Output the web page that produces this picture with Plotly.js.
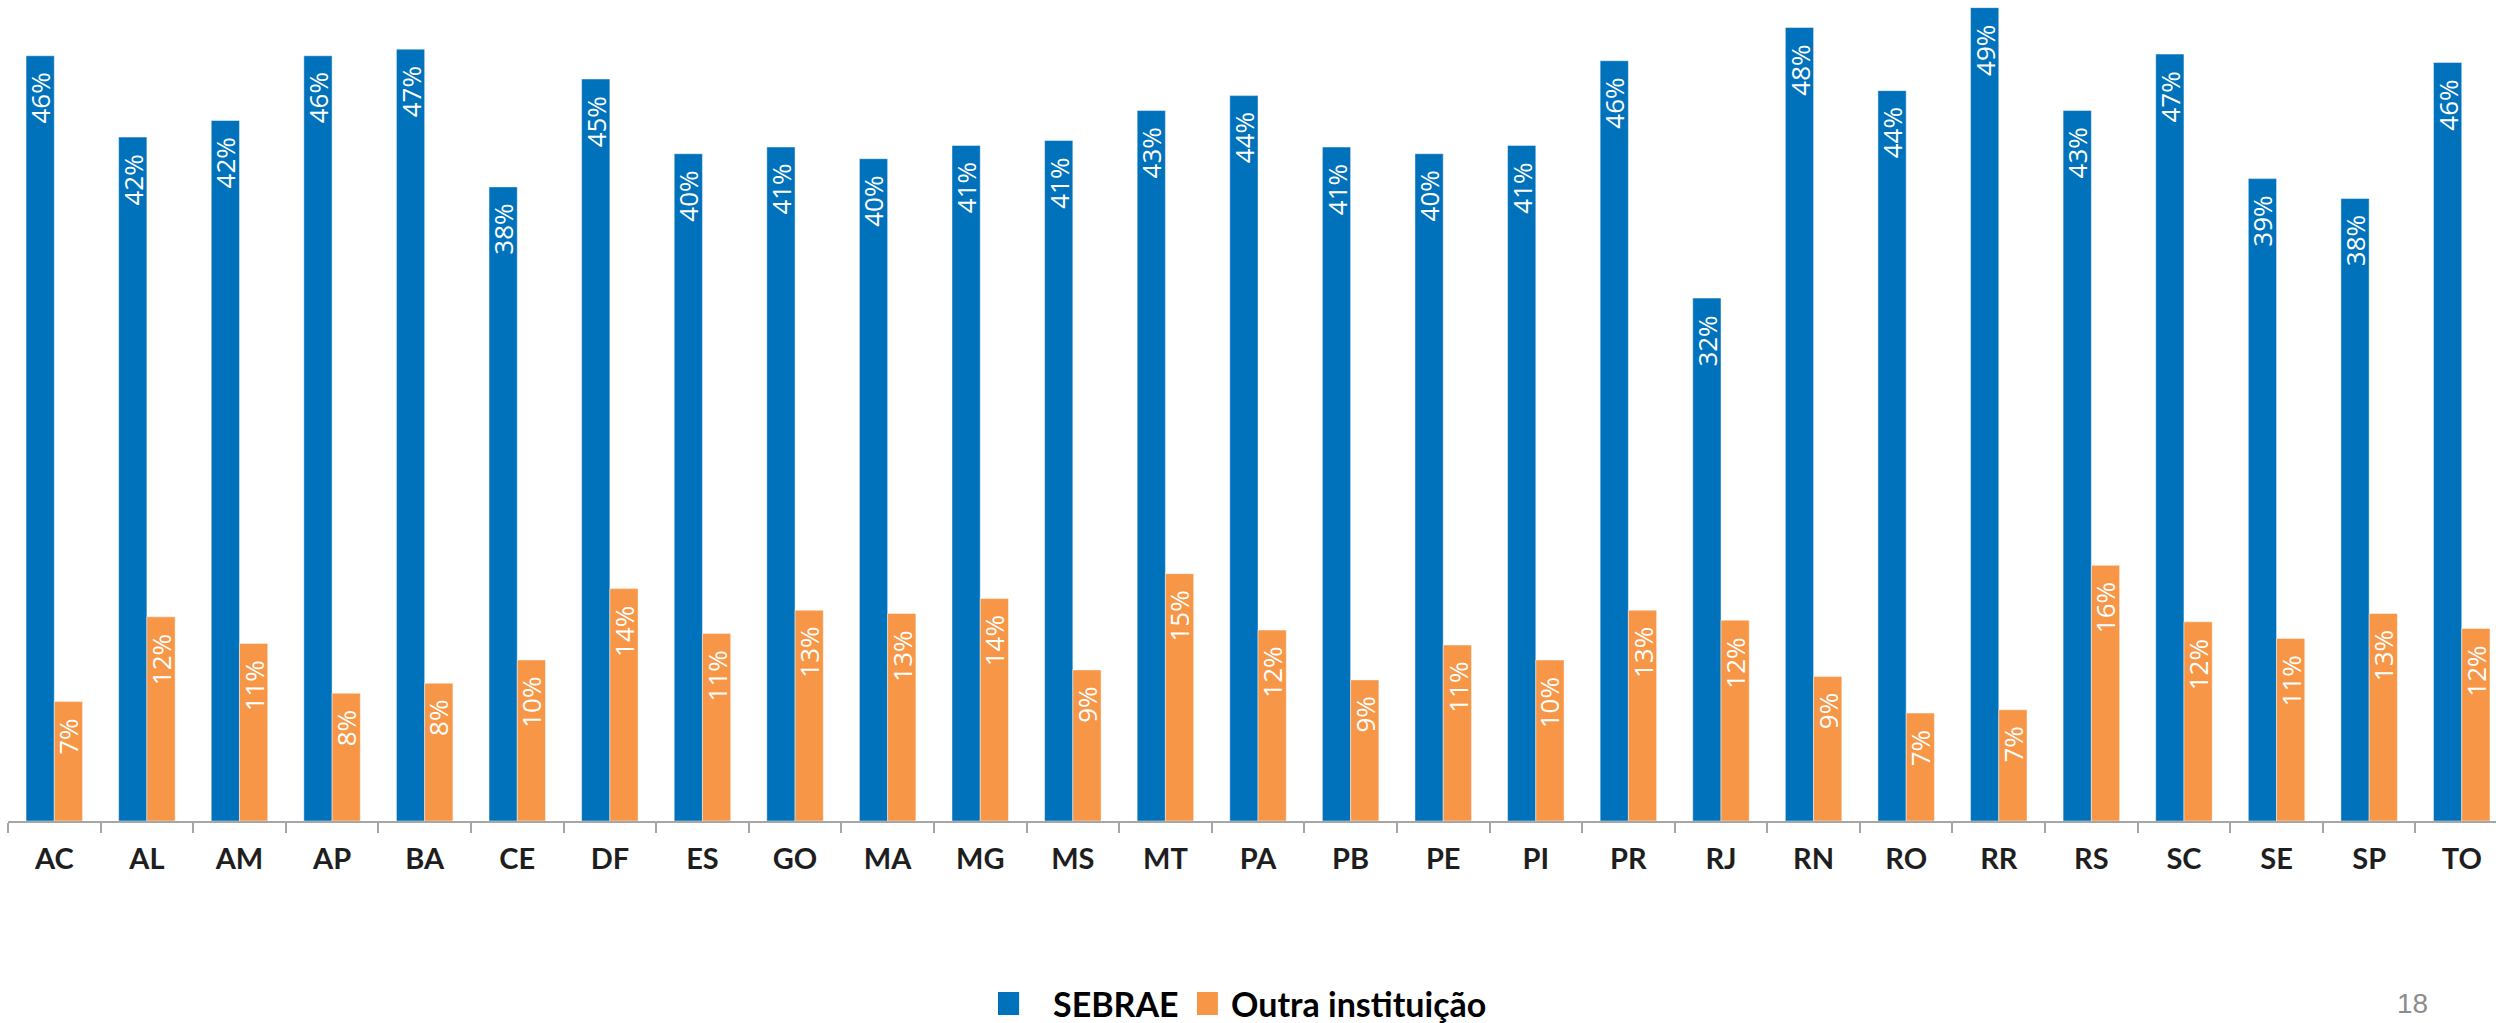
<!DOCTYPE html>
<html>
<head>
<meta charset="utf-8">
<script src="https://cdn.plot.ly/plotly-3.0.1.min.js"></script>
<style>html,body{margin:0;padding:0;background:#fff;}#chart{width:2496px;height:1023px;}</style>
</head>
<body>
<div id="chart"></div>
<script>
const categories = ["AC","AL","AM","AP","BA","CE","DF","ES","GO","MA","MG","MS","MT","PA","PB","PE","PI","PR","RJ","RN","RO","RR","RS","SC","SE","SP","TO"];
const sebraeValues = [46.1, 41.2, 42.2, 46.1, 46.5, 38.2, 44.7, 40.2, 40.6, 39.9, 40.7, 41.0, 42.8, 43.7, 40.6, 40.2, 40.7, 45.8, 31.5, 47.8, 44.0, 49.0, 42.8, 46.2, 38.7, 37.5, 45.7];
const outraValues = [7.2, 12.3, 10.7, 7.7, 8.3, 9.7, 14.0, 11.3, 12.7, 12.5, 13.4, 9.1, 14.9, 11.5, 8.5, 10.6, 9.7, 12.7, 12.1, 8.7, 6.5, 6.7, 15.4, 12.0, 11.0, 12.5, 11.6];
const sebraeLabels = ["46%","42%","42%","46%","47%","38%","45%","40%","41%","40%","41%","41%","43%","44%","41%","40%","41%","46%","32%","48%","44%","49%","43%","47%","39%","38%","46%"];
const outraLabels = ["7%","12%","11%","8%","8%","10%","14%","11%","13%","13%","14%","9%","15%","12%","9%","11%","10%","13%","12%","9%","7%","7%","16%","12%","11%","13%","12%"];
const seriesNames = ["SEBRAE", "Outra instituição"];
const seriesColors = ["#0072BC", "#F79646"];
const pageNumber = "18";

const labelFont = {family: "Open Sans, DejaVu Sans, sans-serif", size: 26, color: "#ffffff"};

function barTrace(name, values, color) {
  return {
    type: "bar",
    name: name,
    x: categories,
    y: values,
    marker: {color: color, line: {color: "rgba(255,255,255,0.45)", width: 1}},
    hoverinfo: "skip",
    showlegend: false
  };
}

const data = [
  barTrace(seriesNames[0], sebraeValues, seriesColors[0]),
  barTrace(seriesNames[1], outraValues, seriesColors[1])
];

// value labels inside top of each bar, rotated
function barLabels(values, labels, xshift) {
  return values.map((v, i) => ({
    x: categories[i], y: v, xref: "x", yref: "y",
    text: labels[i], textangle: -90,
    xanchor: "center", yanchor: "top",
    xshift: xshift, yshift: -15,
    showarrow: false, font: labelFont
  }));
}

const legendFont = {family: "Lato, Open Sans, sans-serif", size: 34, color: "#000000", weight: "bold"};
const legendY = -0.2217;

const layout = {
  width: 2496,
  height: 1023,
  margin: {l: 8, r: 0, t: 0, b: 202, autoexpand: false},
  paper_bgcolor: "#ffffff",
  plot_bgcolor: "#ffffff",
  barmode: "group",
  bargap: 0.39,
  bargroupgap: 0,
  showlegend: false,
  xaxis: {
    type: "category",
    range: [-0.5, 26.37],
    showline: true,
    linecolor: "#A6A6A6",
    linewidth: 2,
    ticks: "outside",
    tickson: "boundaries",
    ticklen: 10,
    tickcolor: "#A6A6A6",
    tickwidth: 2,
    showgrid: false,
    zeroline: false,
    automargin: false,
    tickfont: {family: "Lato, Open Sans, sans-serif", size: 29, color: "#1E1E1E", weight: "bold"},
    ticklabelstandoff: 11
  },
  yaxis: {
    range: [0, 49.46],
    visible: false,
    showgrid: false,
    zeroline: false,
    automargin: false
  },
  shapes: [
    {type: "rect", xref: "paper", yref: "paper", x0: 0.3979, x1: 0.4064, y0: -0.2363, y1: -0.2083,
     fillcolor: seriesColors[0], line: {width: 0}},
    {type: "rect", xref: "paper", yref: "paper", x0: 0.4779, x1: 0.4863, y0: -0.2363, y1: -0.2083,
     fillcolor: seriesColors[1], line: {width: 0}}
  ],
  annotations: [
    ...barLabels(sebraeValues, sebraeLabels, -14),
    ...barLabels(outraValues, outraLabels, 14),
    {text: seriesNames[0], xref: "paper", yref: "paper", x: 0.4192, y: legendY,
     xanchor: "left", yanchor: "middle", showarrow: false, font: legendFont},
    {text: seriesNames[1], xref: "paper", yref: "paper", x: 0.4908, y: legendY,
     xanchor: "left", yanchor: "middle", showarrow: false, font: legendFont},
    {text: pageNumber, xref: "paper", yref: "paper",
     x: 0.9665, y: -0.2436, xanchor: "center", yanchor: "bottom",
     showarrow: false, font: {family: "Liberation Sans, Arial, sans-serif", size: 28, color: "#8C8C8C"}}
  ]
};

Plotly.newPlot("chart", data, layout, {displayModeBar: false, staticPlot: true});
</script>
</body>
</html>
